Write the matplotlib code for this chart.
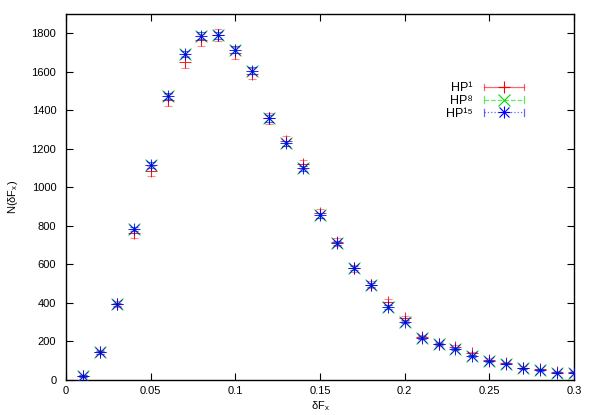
import matplotlib
matplotlib.use("Agg")
import matplotlib.pyplot as plt
from matplotlib.lines import Line2D
from matplotlib.legend_handler import HandlerBase

plt.rcParams['font.family'] = ['Liberation Sans', 'DejaVu Sans']
plt.rcParams['mathtext.fontset'] = 'custom'
plt.rcParams['mathtext.rm'] = 'Liberation Sans'
plt.rcParams['mathtext.it'] = 'Liberation Sans'
plt.rcParams['font.size'] = 8

# ---------------- data ----------------
dfx = [0.01, 0.02, 0.03, 0.04, 0.05, 0.06, 0.07, 0.08, 0.09, 0.10,
       0.11, 0.12, 0.13, 0.14, 0.15, 0.16, 0.17, 0.18, 0.19, 0.20,
       0.21, 0.22, 0.23, 0.24, 0.25, 0.26, 0.27, 0.28, 0.29, 0.30]

hp1 = [20, 141, 391, 759, 1083, 1452, 1651, 1764, 1790, 1698,
       1590, 1357, 1241, 1118, 863, 715, 578, 493, 404, 318,
       222, 185, 170, 136, 103, 86, 62, 52, 40, 40]
hp1_err = [5, 10, 16, 22, 26, 30, 32, 32, 32, 32,
           30, 28, 26, 25, 22, 20, 18, 17, 15, 13,
           11, 10, 10, 9, 8, 7, 6, 5, 5, 5]

hp8 = [18, 141, 391, 783, 1114, 1473, 1692, 1788, 1790, 1715,
       1606, 1357, 1227, 1097, 855, 710, 578, 491, 378, 300,
       217, 185, 157, 124, 98, 82, 58, 49, 35, 35]
hp8_err = [3, 6, 9, 12, 15, 17, 18, 18, 18, 18,
           17, 16, 15, 14, 13, 12, 11, 10, 9, 8,
           7, 6, 6, 5, 5, 4, 4, 3, 3, 3]

hp15 = [18, 141, 391, 783, 1114, 1473, 1692, 1788, 1790, 1715,
        1606, 1357, 1227, 1097, 855, 710, 578, 491, 378, 300,
        217, 185, 157, 124, 98, 82, 58, 49, 35, 35]
hp15_err = [3, 6, 9, 12, 15, 17, 18, 18, 18, 18,
            17, 16, 15, 14, 13, 12, 11, 10, 9, 8,
            7, 6, 6, 5, 5, 4, 4, 3, 3, 3]

labels = ['HP¹', 'HP⁸', 'HP¹⁵']
xticks = [0, 0.05, 0.1, 0.15, 0.2, 0.25, 0.3]
xticklabels = ['0', '0.05', '0.1', '0.15', '0.2', '0.25', '0.3']
yticks = [0, 200, 400, 600, 800, 1000, 1200, 1400, 1600, 1800]

RED = '#ff0000'
GREEN = '#00d800'
BLUE = '#0000ff'

fig = plt.figure(figsize=(5.93, 4.15), dpi=100)
ax = fig.add_axes([66/593, 35.5/415, 508/593, 365.5/415])

# (values, errors, colour, legend linestyle, [(marker, size)])
series = [
    (hp1, hp1_err, RED, '-', [('+', 9)]),
    (hp8, hp8_err, GREEN, '--', [('x', 8)]),
    (hp15, hp15_err, BLUE, ':', [('+', 8.5), ('x', 7)]),
]

for i, (vals, err, col, ls, mks) in enumerate(series):
    ax.errorbar(dfx, vals, yerr=err, fmt='none', ecolor=col, elinewidth=0.8,
                capsize=3, capthick=0.8, alpha=0.45, zorder=2 + i)
    for mk, ms in mks:
        ax.plot(dfx, vals, linestyle='none', marker=mk, markersize=ms,
                markeredgewidth=0.75, color=col, alpha=0.85, zorder=2.5 + i)


class ErrProxy:
    def __init__(self, color, ls, markers):
        self.color = color
        self.ls = ls
        self.markers = markers


class ErrHandler(HandlerBase):
    def create_artists(self, legend, orig, xdescent, ydescent, width, height,
                       fontsize, trans):
        y = (height - ydescent) / 2.0
        x0 = -xdescent
        x1 = -xdescent + width
        h = 2.5
        arts = [
            Line2D([x0, x1], [y, y], color=orig.color, ls=orig.ls, lw=0.9, alpha=0.6),
            Line2D([x0, x0], [y - h, y + h], color=orig.color, lw=0.9, alpha=0.6),
            Line2D([x1, x1], [y - h, y + h], color=orig.color, lw=0.9, alpha=0.6),
        ]
        for mk, ms in orig.markers:
            arts.append(Line2D([(x0 + x1) / 2], [y], marker=mk, ls='none',
                               markersize=ms, markeredgewidth=0.8,
                               color=orig.color))
        for a in arts:
            a.set_transform(trans)
        return arts


proxies = [ErrProxy(c, ls, mks) for (_, _, c, ls, mks) in series]
ax.legend(proxies, labels, handler_map={ErrProxy: ErrHandler()},
          loc='upper left', bbox_to_anchor=(0.735, 0.830), frameon=False,
          markerfirst=False, handlelength=3.2, handletextpad=0.95,
          labelspacing=0.05, borderpad=0, fontsize=9)

ax.set_xlim(0, 0.3)
ax.set_ylim(0, 1900)
ax.set_xticks(xticks)
ax.set_xticklabels(xticklabels)
ax.set_yticks(yticks)
ax.tick_params(direction='in', length=5, width=0.8, top=True, right=True,
               labelsize=8)
ax.tick_params(axis='y', pad=7)
ax.tick_params(axis='x', pad=5)
for s in ax.spines.values():
    s.set_linewidth(1.0)

ax.set_xlabel('δF$_{x}$', fontsize=8, labelpad=2)
ax.set_ylabel('N(δF$_{x}$)', fontsize=8, labelpad=8)

fig.savefig('out.png', dpi=100)
